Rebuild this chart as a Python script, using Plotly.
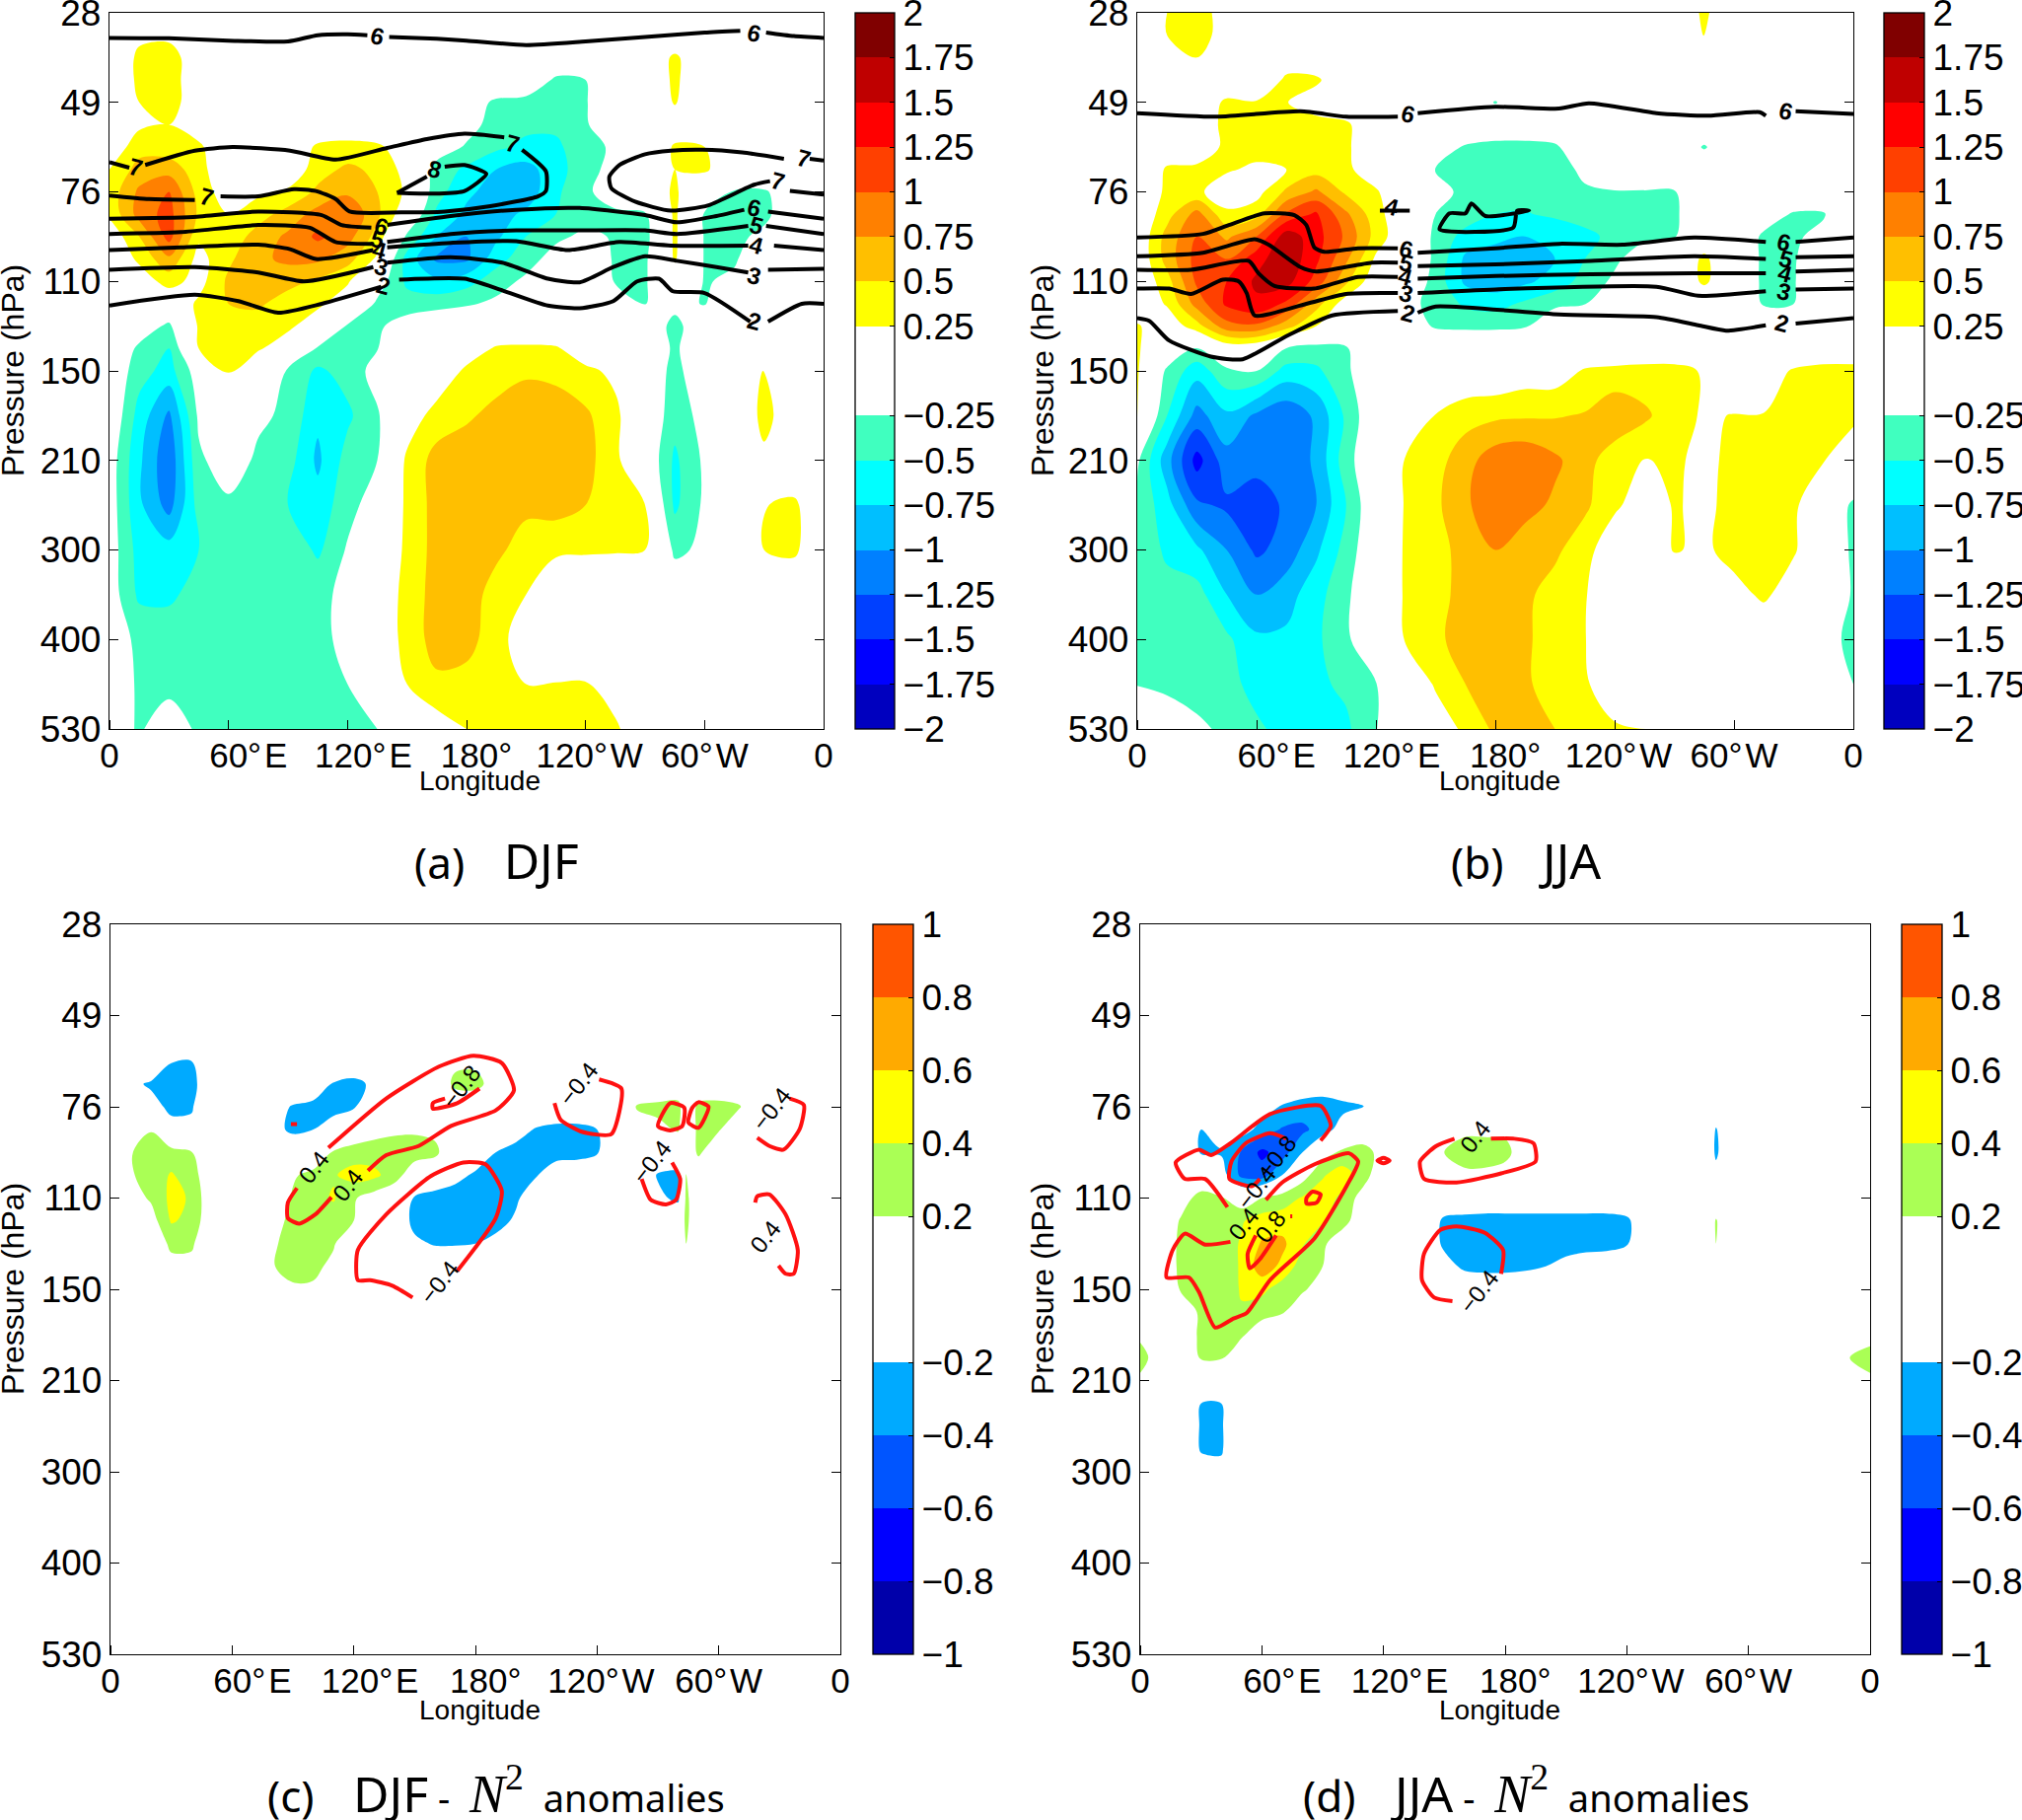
import plotly.graph_objects as go

# ---------- axes ----------
pressure_ticks = ["28", "49", "76", "110", "150", "210", "300", "400", "530"]
pressure_pos = [0, 1, 2, 3, 4, 5, 6, 7, 8]
lon_ticks = [0, 60, 120, 180, 240, 300, 360]
lon_tick_text = ["0", "60°\u200aE", "120°\u200aE", "180°", "120°\u200aW", "60°\u200aW", "0"]
# where the reference prints each label (they sit a little right of their ticks)
lon_label_pos = [0, 70, 128, 185, 242, 300, 360]

wind_cols = list(range(0, 361, 15))
n2_cols = list(range(0, 281, 10)) + [284] + list(range(290, 361, 10))
BLANK = 0.01  # "no signal" level for cells that are left out of the tables below

# ---------- panel (a) DJF wind anomalies: {level position: {longitude: value}} ----------
djf_wind = {
 0: {},
 .25: {15:.2, 30:.2},
 .5: {15:.3, 30:.35, 45:.1, 285:.3},
 .75: {15:.3, 30:.35, 45:.1, 225:-.3, 240:-.25, 285:.3},
 1: {15:.25, 30:.35, 45:.1, 180:-.1, 195:-.3, 210:-.35, 225:-.35, 240:-.27, 285:.27},
 1.25: {15:.2, 30:.25, 45:.1, 180:-.15, 195:-.35, 210:-.45, 225:-.45, 240:-.27, 255:-.1, 285:.1, 300:.15},
 1.5: {0:.05, 15:.4, 30:.35, 45:.3, 105:.3, 120:.35, 135:.3, 150:.1, 165:-.1, 180:-.28, 195:-.45, 210:-.55, 225:-.55, 240:-.35, 255:-.2, 285:.28, 300:.25},
 1.75: {0:.25, 15:.6, 30:.65, 45:.35, 105:.4, 120:.55, 135:.45, 150:.15, 165:-.35, 180:-.55, 195:-.75, 210:-.85, 225:-.6, 240:-.35, 255:-.15, 285:.25, 300:.3},
 2: {0:.35, 15:.8, 30:1.0, 45:.4, 60:.1, 75:.2, 90:.3, 105:.55, 120:.7, 135:.5, 150:.2, 165:-.4, 180:-.7, 195:-.85, 210:-.9, 225:-.55, 240:-.3, 255:-.1, 285:.3, 300:-.1, 315:-.27, 330:-.28, 345:-.1},
 2.25: {0:.3, 15:.85, 30:1.1, 45:.45, 60:.25, 75:.4, 90:.6, 105:.85, 120:1.0, 135:.55, 150:.05, 165:-.55, 180:-.8, 195:-.85, 210:-.7, 225:-.5, 240:-.35, 255:-.3, 270:-.28, 285:.3, 300:-.27, 315:-.3, 330:-.3, 345:-.1},
 2.5: {0:.05, 15:.5, 30:1.1, 45:.3, 60:.35, 75:.6, 90:.8, 105:1.05, 120:.85, 135:.4, 150:-.3, 165:-.75, 180:-1.0, 195:-.8, 210:-.5, 225:-.3, 240:-.2, 255:-.27, 270:-.35, 285:.3, 300:-.27, 315:-.3, 330:-.2},
 2.75: {15:.3, 30:.7, 45:.15, 60:.45, 75:.7, 90:.8, 105:.8, 120:.6, 135:.2, 150:-.6, 165:-1.05, 180:-1.05, 195:-.6, 210:-.35, 225:-.15, 240:-.05, 255:-.28, 270:-.3, 285:.28, 300:-.27, 315:-.28, 330:-.05},
 3: {15:.1, 30:.35, 45:.15, 60:.55, 75:.65, 90:.6, 105:.45, 120:.28, 135:-.1, 150:-.55, 165:-.7, 180:-.6, 195:-.35, 210:-.2, 255:-.27, 270:-.28, 285:.1, 300:-.27, 315:-.2},
 3.25: {45:.3, 60:.5, 75:.55, 90:.35, 105:.3, 120:.1, 135:-.3, 150:-.4, 165:-.35, 180:-.28, 195:-.2, 255:-.1, 270:-.26, 285:-.15, 300:-.27},
 3.5: {15:-.1, 30:-.3, 45:.28, 60:.35, 75:.35, 90:.3, 105:.1, 120:-.28, 135:-.3, 150:-.1, 285:-.35},
 3.75: {15:-.3, 30:-.5, 45:.25, 60:.3, 75:.28, 90:.1, 105:-.28, 120:-.27, 135:-.26, 180:.1, 195:.28, 210:.3, 225:.28, 240:.1, 285:-.3},
 4: {15:-.4, 30:-.6, 45:-.1, 60:.26, 90:-.28, 105:-.55, 120:-.4, 135:-.15, 165:.05, 180:.3, 195:.35, 210:.45, 225:.4, 240:.3, 255:.2, 285:-.35, 330:.26},
 4.5: {15:-.6, 30:-1.05, 45:-.2, 75:-.2, 90:-.3, 105:-.7, 120:-.55, 135:-.28, 150:.1, 165:.35, 180:.45, 195:.6, 210:.7, 225:.7, 240:.55, 255:.3, 285:-.4, 300:-.15, 330:.32, 345:.1},
 5: {0:-.1, 15:-.7, 30:-1.2, 45:-.3, 60:-.1, 75:-.3, 90:-.4, 105:-.8, 120:-.4, 135:-.25, 150:.3, 165:.6, 180:.7, 195:.72, 210:.7, 225:.7, 240:.6, 255:.3, 285:-.55, 300:-.2, 330:.2},
 5.5: {0:-.1, 15:-.7, 30:-1.1, 45:-.4, 60:-.3, 75:-.4, 90:-.5, 105:-.65, 120:-.35, 135:-.1, 150:.3, 165:.6, 180:.65, 195:.6, 210:.55, 225:.6, 240:.5, 255:.3, 270:.25, 285:-.55, 300:-.2, 330:.24, 345:.3},
 6: {0:-.1, 15:-.6, 30:-.65, 45:-.5, 60:-.3, 75:-.45, 90:-.3, 105:-.55, 120:-.22, 150:.3, 165:.6, 180:.65, 195:.55, 210:.4, 225:.3, 240:.28, 255:.27, 270:.25, 285:-.3, 300:-.2, 330:.25, 345:.3},
 6.5: {0:-.1, 15:-.55, 30:-.55, 45:-.4, 60:-.3, 75:-.3, 90:-.3, 105:-.3, 120:-.2, 150:.35, 165:.6, 180:.62, 195:.4, 210:.25, 285:-.05},
 7: {0:-.12, 15:-.3, 30:-.35, 45:-.3, 60:-.3, 75:-.3, 90:-.3, 105:-.3, 120:-.2, 150:.35, 165:.6, 180:.6, 195:.35, 210:.1},
 7.5: {0:-.15, 15:-.27, 30:-.3, 45:-.3, 60:-.3, 75:-.3, 90:-.3, 105:-.3, 120:-.25, 150:.25, 165:.45, 180:.4, 195:.28, 210:.25, 225:.26, 240:.27, 255:.1},
 8: {0:-.15, 15:-.27, 30:-.15, 45:-.28, 60:-.3, 75:-.3, 90:-.3, 105:-.3, 120:-.28, 135:-.25, 165:.1, 180:.25, 195:.3, 210:.3, 225:.3, 240:.3, 255:.3},
}

# ---------- panel (b) JJA wind anomalies ----------
jja_wind = {
 0: {15:.25, 30:.3, 45:.2, 285:.3},
 .25: {15:.25, 30:.3, 45:.2, 285:.27},
 .5: {15:.15, 30:.25, 75:.1},
 .75: {75:.3, 90:.3},
 1: {30:.05, 45:.3, 60:.27, 75:.26, 90:.1, 180:-.27},
 1.25: {45:.35, 60:.4, 75:.4, 90:.35, 105:.3},
 1.5: {15:.1, 30:.1, 45:.3, 60:.35, 75:.4, 90:.4, 105:.3, 150:-.1, 165:-.28, 180:-.35, 195:-.35, 210:-.3, 285:-.28},
 1.75: {15:.28, 30:.3, 45:.28, 60:.2, 75:.25, 90:.4, 105:.3, 120:.1, 150:-.27, 165:-.35, 180:-.4, 195:-.4, 210:-.35, 225:-.2},
 2: {15:.3, 30:.3, 45:.1, 60:.15, 75:.55, 90:.8, 105:.45, 120:.28, 150:-.1, 165:-.35, 180:-.4, 195:-.4, 210:-.35, 225:-.28, 240:-.27, 255:-.27, 270:-.27},
 2.25: {15:.4, 30:.85, 45:.3, 60:.4, 75:1.05, 90:1.3, 105:.8, 120:.35, 150:-.25, 165:-.35, 180:-.5, 195:-.52, 210:-.45, 225:-.35, 240:-.3, 255:-.28, 270:-.28, 285:-.1, 315:-.1, 330:-.28, 345:-.28},
 2.5: {15:.6, 30:1.0, 45:.7, 60:1.0, 75:1.65, 90:1.35, 105:.95, 120:.4, 150:-.3, 165:-.6, 180:-.7, 195:-.75, 210:-.72, 225:-.6, 240:-.4, 255:-.3, 270:-.27, 285:.1, 315:-.3, 330:-.3, 345:-.15},
 2.75: {15:.6, 30:1.1, 45:1.0, 60:1.4, 75:1.7, 90:1.3, 105:.8, 120:.2, 150:-.3, 165:-.8, 180:-.85, 195:-.85, 210:-.75, 225:-.5, 240:-.3, 255:-.1, 285:.3, 315:-.3, 330:-.28},
 3: {15:.4, 30:1.05, 45:1.25, 60:1.55, 75:1.6, 90:1.15, 105:.55, 120:.05, 150:-.35, 165:-.8, 180:-.9, 195:-.8, 210:-.65, 225:-.4, 240:-.2, 285:.3, 315:-.3, 330:-.27},
 3.25: {15:.28, 30:.85, 45:1.3, 60:1.45, 75:1.2, 90:.6, 105:.1, 135:-.2, 150:-.3, 165:-.55, 180:-.6, 195:-.45, 210:-.3, 225:-.26, 240:-.05, 315:-.28, 330:-.25},
 3.5: {0:.28, 15:.05, 30:.4, 45:.9, 60:.95, 75:.6, 90:.25, 135:-.1, 150:-.28, 165:-.3, 180:-.3, 195:-.27, 210:-.05},
 3.75: {0:.28, 30:-.28, 45:.05, 75:-.26, 90:-.35, 105:-.28},
 4: {0:.28, 15:-.3, 30:-.65, 45:-.3, 60:-.25, 75:-.6, 90:-.55, 105:-.3, 195:.1, 210:.1, 225:.28, 240:.32, 255:.35, 270:.35, 285:.22, 315:.1, 330:.28, 345:.35, 360:.35},
 4.5: {0:.27, 15:-.5, 30:-1.1, 45:-.8, 60:-1.05, 75:-1.2, 90:-.95, 105:-.45, 150:.26, 165:.4, 180:.45, 195:.47, 210:.48, 225:.52, 240:.7, 255:.55, 270:.35, 285:.22, 300:.26, 315:.26, 330:.3, 345:.3, 360:.3},
 5: {0:-.2, 15:-.9, 30:-1.6, 45:-1.1, 60:-1.15, 75:-1.2, 90:-.95, 105:-.35, 135:.27, 150:.4, 165:.65, 180:.9, 195:.95, 210:.8, 225:.6, 240:.35, 255:.24, 270:.28, 285:.2, 300:.3, 315:.3, 330:.3, 345:.26, 360:.1},
 5.5: {0:-.3, 15:-.65, 30:-1.2, 45:-1.3, 60:-1.4, 75:-1.2, 90:-1, 105:-.5, 135:.27, 150:.45, 165:.7, 180:.95, 195:.85, 210:.7, 225:.55, 240:.3, 255:.1, 270:.27, 285:.2, 300:.32, 315:.32, 330:.3, 360:-.3},
 6: {0:-.3, 15:-.55, 30:-.7, 45:-1.0, 60:-1.3, 75:-1.15, 90:-.8, 105:-.4, 135:.28, 150:.4, 165:.6, 180:.75, 195:.6, 210:.55, 225:.35, 240:.05, 270:.27, 285:.2, 300:.35, 315:.35, 330:.28, 360:-.3},
 6.5: {0:-.3, 15:-.4, 30:-.4, 45:-.75, 60:-1.0, 75:-.85, 90:-.6, 105:-.3, 135:.28, 150:.45, 165:.55, 180:.6, 195:.55, 210:.4, 225:.27, 270:.05, 285:.05, 300:.15, 315:.3, 330:.1, 360:-.28},
 7: {0:-.3, 15:-.35, 30:-.4, 45:-.45, 60:-.7, 75:-.7, 90:-.55, 105:-.3, 135:.27, 150:.45, 165:.6, 180:.6, 195:.55, 210:.35, 225:.26, 345:-.1, 360:-.35},
 7.5: {0:-.26, 15:-.3, 30:-.35, 45:-.4, 60:-.6, 75:-.65, 90:-.55, 105:-.45, 120:-.26, 150:.28, 165:.5, 180:.55, 195:.55, 210:.35, 225:.28, 240:.1, 360:-.25},
 8: {15:-.1, 30:-.2, 45:-.3, 60:-.45, 75:-.6, 90:-.6, 105:-.55, 120:-.26, 150:.1, 165:.3, 180:.55, 195:.55, 210:.5, 225:.3, 240:.28, 255:.26},
}

# ---------- panel (c) DJF N2 anomalies ----------
djf_n2 = {
 0: {},
 1.25: {},
 1.5: {30:-.19, 40:-.2, 170:.15, 180:.15, 190:.15},
 1.75: {10:-.15, 20:-.23, 30:-.3, 40:-.28, 110:-.22, 120:-.27, 130:-.15, 170:.25, 180:.27, 190:.1},
 2: {20:-.12, 30:-.25, 40:-.22, 80:-.1, 90:-.22, 100:-.28, 110:-.3, 120:-.22, 130:-.05, 260:.22, 270:.25, 280:.27, 290:.25, 300:.27, 310:.22},
 2.25: {10:.1, 20:.19, 30:-.12, 40:-.15, 80:-.12, 90:-.25, 100:-.2, 110:-.05, 130:.12, 140:.17, 150:.17, 160:.15, 200:-.1, 210:-.22, 220:-.27, 230:-.27, 240:-.2, 260:.1, 270:.15, 280:.22, 290:.25, 300:.22},
 2.5: {10:.19, 20:.28, 30:.28, 40:.21, 100:.05, 110:.22, 120:.3, 130:.3, 140:.28, 150:.3, 160:.25, 190:-.2, 200:-.28, 210:-.33, 220:-.33, 230:-.3, 240:-.22, 290:.24},
 2.75: {10:.18, 20:.28, 30:.42, 40:.3, 90:.18, 100:.25, 110:.38, 120:.48, 130:.45, 140:.3, 150:.05, 170:-.1, 180:-.25, 190:-.3, 200:-.3, 210:-.22, 270:-.22, 280:-.25, 284:.22},
 3: {10:.1, 20:.23, 30:.45, 40:.38, 80:.05, 90:.22, 100:.33, 110:.42, 120:.22, 130:.1, 150:-.22, 160:-.3, 170:-.35, 180:-.35, 190:-.33, 200:-.25, 270:-.15, 280:-.25, 284:.25},
 3.25: {20:.1, 30:.42, 40:.35, 80:.1, 90:.27, 100:.3, 110:.3, 120:.2, 150:-.27, 160:-.33, 170:-.35, 180:-.35, 190:-.32, 200:-.15, 284:.25},
 3.5: {30:.25, 40:.23, 80:.17, 90:.28, 100:.27, 110:.22, 150:-.15, 160:-.22, 170:-.22, 180:-.2, 190:-.1, 284:.2},
 3.75: {30:.12, 40:.14, 80:.19, 90:.27, 100:.25, 110:.15},
 4: {80:.12, 90:.17, 100:.17, 110:.05},
 4.25: {},
 8: {},
}

# ---------- panel (d) JJA N2 anomalies ----------
jja_n2 = {
 0: {},
 1.5: {},
 1.75: {80:-.05, 90:-.1, 100:-.05},
 2: {60:-.1, 70:-.22, 80:-.28, 90:-.28, 100:-.25, 110:-.22},
 2.25: {30:-.2, 40:-.1, 50:-.1, 60:-.28, 70:-.42, 80:-.45, 90:-.3, 100:-.1, 150:.15, 160:.15, 170:.15, 180:.15, 284:-.22},
 2.5: {30:-.22, 40:-.22, 50:-.42, 60:-.65, 70:-.5, 80:-.2, 90:.1, 100:.25, 110:.3, 120:.1, 150:.2, 160:.3, 170:.3, 180:.27, 190:.05, 284:-.25},
 2.75: {40:-.1, 50:-.45, 60:-.5, 70:-.2, 80:.1, 90:.38, 100:.5, 110:.3, 150:.1, 160:.15, 170:.15, 180:.1, 284:-.1},
 3: {20:.1, 30:.28, 40:.22, 50:.05, 60:.2, 70:.3, 80:.42, 90:.5, 100:.35, 110:.1},
 3.25: {20:.22, 30:.35, 40:.3, 50:.38, 60:.5, 70:.5, 80:.5, 90:.42, 100:.3, 150:-.25, 160:-.28, 170:-.3, 180:-.3, 190:-.3, 200:-.3, 210:-.3, 220:-.3, 230:-.3, 240:-.25, 284:.22},
 3.5: {20:.25, 30:.38, 40:.3, 50:.42, 60:.62, 70:.65, 80:.42, 90:.25, 150:-.25, 160:-.33, 170:-.35, 180:-.35, 190:-.33, 200:-.33, 210:-.33, 220:-.33, 230:-.3, 240:-.22, 284:.2},
 3.75: {20:.25, 30:.3, 40:.3, 50:.42, 60:.72, 70:.55, 80:.3, 90:.2, 150:-.1, 160:-.25, 170:-.28, 180:-.28, 190:-.25, 200:-.2, 210:-.1},
 4: {20:.22, 30:.26, 40:.27, 50:.42, 60:.45, 70:.3, 80:.23, 90:.1},
 4.25: {30:.25, 40:.27, 50:.38, 60:.28, 70:.22, 80:.05},
 4.5: {0:.15, 30:.25, 40:.27, 50:.23, 60:.05, 360:.1},
 4.75: {0:.3, 10:.05, 30:.22, 40:.22, 350:.2, 360:.3},
 5: {0:.15, 30:-.05, 40:-.05, 360:.15},
 5.25: {30:-.2, 40:-.2},
 5.5: {30:-.22, 40:-.22},
 5.75: {30:-.22, 40:-.22},
 6: {30:-.1, 40:-.15},
 6.25: {},
 8: {},
}

# ---------- contour lines: (longitude list, level-position list) ----------
djf_lines = [
 ([0,30,60,90,105,120,130,None,141,165,180,210,240,270,300,318,None,331,345,360],
  [.28,.285,.31,.32,.25,.24,.25,None,.27,.29,.31,.36,.32,.27,.22,.2,None,.22,.26,.28]),
 ([0,10,None,18,43,62,91,114,140,160,179,199,None,208,220,220,216,192,169,147,121,114,104,93,75,56,None,43,20,0],
  [1.67,1.73,None,1.70,1.54,1.50,1.54,1.64,1.51,1.41,1.35,1.39,None,1.53,1.77,1.99,2.05,2.16,2.22,2.23,2.22,2.08,1.99,1.97,2.05,2.05,None,2.09,2.08,2.04]),
 ([360,353,None,340,319,299,283,270,257,252,253,265,283,302,325,333,None,343,360],
  [1.65,1.63,None,1.63,1.56,1.53,1.54,1.58,1.70,1.83,1.96,2.11,2.21,2.15,1.92,1.88,None,1.99,2.03]),
 ([145,160,None,169,179,190,179,166,145],
  [2.01,1.83,None,1.72,1.70,1.80,1.99,2.02,2.01]),
 ([0,42,75,107,117,132,None,140,172,205,237,270,286,306,320,None,332,360],
  [2.30,2.28,2.22,2.26,2.37,2.40,None,2.37,2.27,2.20,2.18,2.26,2.34,2.27,2.20,None,2.22,2.30]),
 ([0,36,75,101,114,133,None,140,172,205,237,270,286,322,None,331,360],
  [2.47,2.45,2.37,2.40,2.56,2.58,None,2.56,2.47,2.43,2.43,2.43,2.47,2.38,None,2.38,2.47]),
 ([0,36,75,91,104,133,None,140,172,205,231,257,283,322,None,335,360],
  [2.65,2.62,2.59,2.64,2.75,2.65,None,2.62,2.57,2.55,2.65,2.56,2.60,2.60,None,2.60,2.65]),
 ([0,43,75,98,133,None,140,172,198,221,237,254,270,286,306,322,None,332,360],
  [2.87,2.84,2.90,3.0,2.84,None,2.79,2.73,2.79,2.97,3.01,2.84,2.72,2.77,2.84,2.90,None,2.87,2.86]),
 ([0,43,65,85,107,137,None,146,179,198,221,237,254,266,277,284,300,323,None,332,349,360],
  [3.27,3.15,3.22,3.35,3.25,3.06,None,2.98,2.97,3.10,3.27,3.30,3.22,3.0,2.97,3.11,3.13,3.45,None,3.45,3.25,3.25]),
]
djf_line_labels = [
 (135,.26,"6"),(325,.23,"6"),(13,1.72,"7"),(49,2.05,"7"),(203,1.46,"7"),(164,1.75,"8"),(350,1.63,"7"),(337,1.88,"7"),
 (325,2.18,"6"),(326,2.38,"5"),(326,2.59,"4"),(325,2.94,"3"),(325,3.44,"2"),
 (137,2.39,"6"),(135,2.53,"5"),(136,2.65,"4"),(137,2.84,"3"),(138,3.05,"2"),
]

jja_lines = [
 ([0,40,82,105,131,None,141,180,212,227,261,287,313,316,None,331,360],
  [1.12,1.16,1.10,1.16,1.16,None,1.12,1.05,1.07,1.01,1.12,1.15,1.11,1.15,None,1.10,1.13]),
 ([0,33,46,64,79,85,89,94,111,131,None,141,180,212,244,280,316,None,331,360],
  [2.51,2.47,2.37,2.24,2.26,2.37,2.62,2.67,2.63,2.63,None,2.68,2.63,2.58,2.59,2.51,2.56,None,2.56,2.51]),
 ([0,33,59,66,82,90,118,131,None,141,180,228,280,316,None,331,360],
  [2.72,2.68,2.53,2.59,2.84,2.89,2.79,2.79,None,2.83,2.81,2.77,2.72,2.75,None,2.73,2.72]),
 ([0,27,56,61,69,89,111,131,None,141,180,228,280,316,None,331,360],
  [2.87,2.87,2.77,2.91,3.05,3.08,2.95,2.95,None,2.97,2.94,2.92,2.91,2.91,None,2.89,2.87]),
 ([0,16,27,43,51,55,59,85,105,131,None,141,180,261,282,316,None,331,360],
  [3.08,3.08,3.14,2.98,3.0,3.13,3.38,3.25,3.14,3.13,None,3.13,3.09,3.06,3.16,3.11,None,3.09,3.08]),
 ([0,6,16,37,53,76,98,131,None,141,150,212,261,282,296,316,None,331,360],
  [3.41,3.44,3.66,3.84,3.87,3.60,3.38,3.33,None,3.35,3.28,3.37,3.40,3.49,3.55,3.49,None,3.47,3.41]),
 ([122,137],[2.21,2.21]),
 ([152,157,165,168,175,197,191,189,152],[2.42,2.24,2.24,2.13,2.27,2.21,2.21,2.40,2.42]),
]
jja_line_labels = [
 (136,1.13,"6"),(326,1.10,"6"),(135,2.64,"6"),(135,2.79,"5"),(135,2.95,"4"),(135,3.13,"3"),(136,3.35,"2"),
 (325,2.56,"6"),(326,2.75,"5"),(326,2.91,"4"),(325,3.11,"3"),(324,3.47,"2"),(128,2.17,"4"),
]

djf_n2_lines = [
 ([107.5,136,162,179,193,199,190,168,152,136,127,None,109,101,93,87.5,87.5,92],
  [2.45,1.91,1.56,1.44,1.52,1.82,2.04,2.21,2.43,2.53,2.70,None,2.99,3.18,3.28,3.22,3.05,2.89]),
 ([182,171,159,159,165],[1.80,1.96,2.02,1.96,1.91]),
 ([89,92],[2.19,2.19]),
 ([149,139,128,122,122,136,158,174,185,193,190,171],[4.09,3.96,3.90,3.90,3.57,3.18,2.76,2.61,2.63,2.92,3.22,3.80]),
 ([241,252,247,232,222,219],[1.70,1.80,2.30,2.27,2.14,1.96]),
 ([276,283,282,276,270,276],[1.96,2.01,2.21,2.26,2.21,1.96]),
 ([290,295,290,285,287,290],[1.95,2.0,2.23,2.17,2.01,1.95]),
 ([277,281,279,274,266.5,262],[2.61,2.79,3.02,3.07,3.02,2.79]),
 ([335,342,340,332,325,319],[1.91,1.98,2.24,2.47,2.43,2.34]),
 ([318,319,325,333,339,337,333,329.5],[3.05,2.98,2.96,3.18,3.57,3.83,3.83,3.74]),
]
djf_n2_labels = [
 (100,2.66,"0.4"),(117,2.86,"0.4"),(173,1.78,"−0.8"),(162,3.93,"−0.4"),(231,1.75,"−0.4"),
 (267,2.60,"−0.4"),(326,2.03,"−0.4"),(323,3.42,"0.4"),
]

jja_n2_lines = [
 ([43,32,22,17.5,29,35,44.5,64,89,94,89],[3.10,2.79,2.79,2.61,2.47,2.53,2.40,2.08,1.99,2.21,2.37]),
 ([72,64,52,45,44,55,59],[2.35,2.29,2.40,2.60,2.79,2.87,2.79]),
 ([44.5,32,22,16,13,24,29,37,46,52.5,64,86,102,107.5,103,86,70,62],
  [3.48,3.51,3.39,3.57,3.87,3.87,4.03,4.42,4.32,4.26,3.90,3.44,2.86,2.60,2.51,2.63,2.83,3.02]),
 ([67,59,54,53,57],[3.41,3.67,3.77,3.61,3.41]),
 ([85,89,87,82,82,85],[2.93,2.96,3.05,3.06,3.0,2.93]),
 ([74,75],[3.2,3.2]),
 ([117,120,123,120,117],[2.59,2.56,2.59,2.62,2.59]),
 ([173,184.5,194,195,178,156,140,138,146,155],[2.35,2.35,2.40,2.60,2.73,2.83,2.79,2.60,2.43,2.35]),
 ([178,179,170,156,148,140,139,145,154],[3.83,3.57,3.38,3.31,3.35,3.61,3.90,4.09,4.13]),
]
jja_n2_labels = [
 (67.5,2.55,"−0.8"),(57,2.89,"−0.4"),(51,3.28,"0.4"),(64,3.31,"0.8"),(165,2.33,"0.4"),(167,4.03,"−0.4"),
]

# ---------- colours ----------
wind_colors = ["#0000BF","#0000FF","#0040FF","#0080FF","#00BFFF","#00FFFF","#40FFBF","#FFFFFF",
               "#FFFFFF","#FFFF00","#FFBF00","#FF8000","#FF4000","#FF0000","#BF0000","#800000"]
n2_colors = ["#0000AA","#0000FF","#0055FF","#00AAFF","#FFFFFF","#FFFFFF","#AAFF55","#FFFF00","#FFAA00","#FF5500"]
wind_ticks = [-2,-1.75,-1.5,-1.25,-1,-.75,-.5,-.25,.25,.5,.75,1,1.25,1.5,1.75,2]
wind_tick_text = ["−2","−1.75","−1.5","−1.25","−1","−0.75","−0.5","−0.25","0.25","0.5","0.75","1","1.25","1.5","1.75","2"]
n2_ticks = [-1,-.8,-.6,-.4,-.2,.2,.4,.6,.8,1]
n2_tick_text = ["−1","−0.8","−0.6","−0.4","−0.2","0.2","0.4","0.6","0.8","1"]

FONT = "Liberation Sans"
W, H = 2050, 1845
SP = "&nbsp;&nbsp;&nbsp;&nbsp;"
N2 = "&nbsp;<span style='font-family:Liberation Serif;font-size:54px'><i>N</i><sup>2</sup></span>&nbsp;&nbsp;"


def big(t, size=50):
    return f"<span style='font-size:{size}px'>{t}</span>"


def stepped(colors):
    n = len(colors)
    out = []
    for i, c in enumerate(colors):
        out += [[i / n, c], [(i + 1) / n, c]]
    return out


def to_grid(table, cols):
    rows = sorted(table)
    return rows, [[table[r].get(c, BLANK) for c in cols] for r in rows]


panels = [
    dict(table=djf_wind, cols=wind_cols, box=(111, 835, 13, 739), bar=(867, 907), colors=wind_colors, lim=2, step=.25,
         ticks=wind_ticks, ticktext=wind_tick_text, lines=djf_lines, labels=djf_line_labels, lcolor="black", angle=15,
         cap=big("(a)", 44) + SP + big("DJF"), capxy=(503, 872), longxy=(486, 792), presx=13, lw=4),
    dict(table=jja_wind, cols=wind_cols, box=(1153, 1879, 13, 739), bar=(1910, 1951), colors=wind_colors, lim=2, step=.25,
         ticks=wind_ticks, ticktext=wind_tick_text, lines=jja_lines, labels=jja_line_labels, lcolor="black", angle=15,
         cap=big("(b)", 44) + SP + big("JJA"), capxy=(1547, 872), longxy=(1520, 792), presx=1057, lw=4),
    dict(table=djf_n2, cols=n2_cols, box=(112, 852, 937, 1677), bar=(885, 926), colors=n2_colors, lim=1, step=.2,
         ticks=n2_ticks, ticktext=n2_tick_text, lines=djf_n2_lines, labels=djf_n2_labels, lcolor="#FF1010", angle=-52,
         cap=big("(c)", 44) + SP + big("DJF") + "&nbsp;-&nbsp;" + N2 + "anomalies", capxy=(503, 1816), longxy=(486, 1733), presx=13, lw=4),
    dict(table=jja_n2, cols=n2_cols, box=(1156, 1896, 937, 1677), bar=(1928, 1969), colors=n2_colors, lim=1, step=.2,
         ticks=n2_ticks, ticktext=n2_tick_text, lines=jja_n2_lines, labels=jja_n2_labels, lcolor="#FF1010", angle=-52,
         cap=big("(d)", 44) + SP + big("JJA") + "&nbsp;-&nbsp;" + N2 + "anomalies", capxy=(1547, 1816), longxy=(1520, 1733), presx=1057, lw=4),
]

fig = go.Figure()
layout = dict(width=W, height=H, margin=dict(l=0, r=0, t=0, b=0, autoexpand=False), autosize=False,
              paper_bgcolor="white", plot_bgcolor="white", showlegend=False,
              font=dict(family=FONT, size=36, color="black"))
annots = []
for k, p in enumerate(panels):
    suffix = "" if k == 0 else str(k + 1)
    x0, x1, y0, y1 = p["box"]
    layout["xaxis" + suffix] = dict(
        domain=[x0 / W, x1 / W], range=[0, 360], anchor="y" + suffix,
        tickmode="array", tickvals=lon_label_pos, ticktext=lon_tick_text, ticks="",
        ticklabelstandoff=-4, ticklabeloverflow="allow", tickfont=dict(size=35, family=FONT),
        minor=dict(tickmode="array", tickvals=lon_ticks, ticks="inside", ticklen=9, tickwidth=1.3, tickcolor="black"),
        showline=True, linecolor="black", linewidth=1.3, mirror=True, showgrid=False, zeroline=False)
    layout["yaxis" + suffix] = dict(
        domain=[1 - y1 / H, 1 - y0 / H], range=[8, 0], anchor="x" + suffix,
        tickmode="array", tickvals=pressure_pos, ticktext=pressure_ticks, ticks="inside", ticklen=9, tickwidth=1.3,
        tickcolor="black", ticklabeloverflow="allow", tickfont=dict(size=37, family=FONT),
        showline=True, linecolor="black", linewidth=1.3, mirror="ticks", showgrid=False, zeroline=False)
    rows, grid = to_grid(p["table"], p["cols"])
    fig.add_trace(go.Contour(
        x=p["cols"], y=rows, z=grid, xaxis="x" + suffix, yaxis="y" + suffix,
        zmin=-p["lim"], zmax=p["lim"], zauto=False, colorscale=stepped(p["colors"]),
        autocontour=False, contours=dict(start=-p["lim"], end=p["lim"], size=p["step"], coloring="fill", showlines=False),
        line=dict(width=0, smoothing=1), hoverinfo="skip",
        colorbar=dict(x=p["bar"][0] / W, xanchor="left", xpad=0, ypad=0, y=1 - (y0 + y1) / 2 / H, yanchor="middle",
                      len=y1 - y0, lenmode="pixels", thickness=p["bar"][1] - p["bar"][0], thicknessmode="pixels",
                      outlinecolor="black", outlinewidth=1.3, tickmode="array", tickvals=p["ticks"], ticktext=p["ticktext"],
                      ticks="inside", ticklen=5, tickwidth=1, tickcolor="black", ticklabeloverflow="allow",
                      tickfont=dict(size=37, family=FONT))))
    for lx, ly in p["lines"]:
        fig.add_trace(go.Scatter(x=lx, y=ly, mode="lines", xaxis="x" + suffix, yaxis="y" + suffix,
                                 line=dict(color=p["lcolor"], width=p["lw"], shape="spline", smoothing=.6),
                                 connectgaps=False, hoverinfo="skip"))
    for lx, ly, txt in p["labels"]:
        shown = f"<b>{txt}</b>" if p["lcolor"] == "black" else txt
        annots.append(dict(x=lx, y=ly, xref="x" + suffix, yref="y" + suffix, text=shown, showarrow=False,
                           xanchor="center", yanchor="middle", textangle=p["angle"],
                           font=dict(size=24, family=FONT, color="black")))
    annots.append(dict(x=p["longxy"][0] / W, y=1 - p["longxy"][1] / H, xref="paper", yref="paper", text="Longitude",
                       xanchor="center", yanchor="middle", showarrow=False, font=dict(size=28, family=FONT)))
    annots.append(dict(x=p["presx"] / W, y=1 - (y0 + y1) / 2 / H, xref="paper", yref="paper", text="Pressure (hPa)",
                       xanchor="center", yanchor="middle", textangle=-90, showarrow=False, font=dict(size=32, family=FONT)))
    annots.append(dict(x=p["capxy"][0] / W, y=1 - p["capxy"][1] / H, xref="paper", yref="paper", text=p["cap"],
                       xanchor="center", yanchor="middle", showarrow=False, font=dict(size=38, family="Noto Sans")))
layout["annotations"] = annots
fig.update_layout(**layout)
fig.write_html("out.html", config=dict(displayModeBar=False),
               post_script="document.body.style.margin='0';document.documentElement.style.overflow='hidden';")
